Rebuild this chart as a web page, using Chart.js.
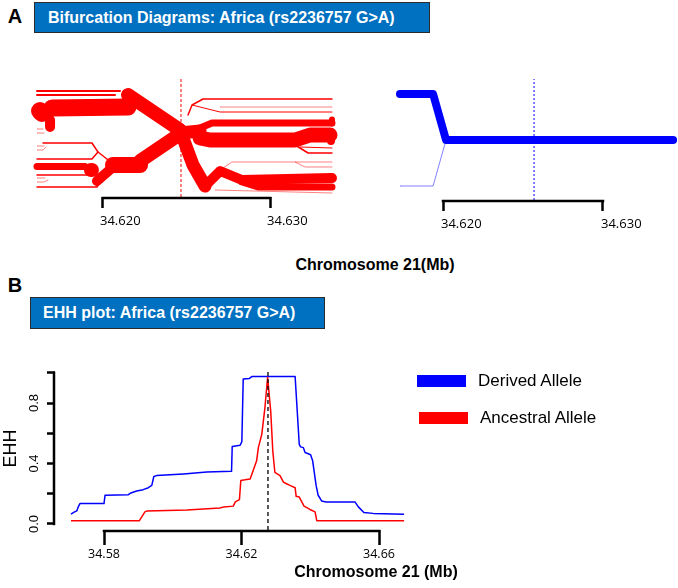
<!DOCTYPE html>
<html><head><meta charset="utf-8">
<script src="https://cdn.jsdelivr.net/npm/chart.js@4.4.1/dist/chart.umd.min.js"></script>
<style>
html,body{margin:0;padding:0;background:#fff;}
#page{position:relative;width:678px;height:588px;overflow:hidden;font-family:"Liberation Sans",Arial,sans-serif;color:#000;}
canvas{position:absolute;}
.ctr{position:absolute;transform:translate(-50%,-50%);white-space:nowrap;}
.lft{position:absolute;transform:translateY(-50%);white-space:nowrap;}
.letter{font-weight:bold;font-size:20px;}
.box{position:absolute;background:#0070C0;border:1px solid #2b2b2b;box-sizing:border-box;color:#fff;font-weight:bold;font-size:16px;white-space:nowrap;}
.xt{font-weight:bold;font-size:16px;}
.sw{position:absolute;}
.lg{font-size:17px;}
</style></head><body>
<div id="page">
  <div class="ctr letter" style="left:15px;top:16px;">A</div>
  <div class="box" style="left:34px;top:2px;width:396px;height:31px;line-height:29px;padding-left:13px;">Bifurcation Diagrams: Africa (rs2236757 G&gt;A)</div>
  <canvas id="bifL" width="345" height="165" style="left:0px;top:70px;width:345px;height:165px;"></canvas>
  <canvas id="bifR" width="298" height="170" style="left:380px;top:70px;width:298px;height:170px;"></canvas>
  <div class="ctr xt" style="left:375px;top:265px;">Chromosome 21(Mb)</div>

  <div class="ctr letter" style="left:15px;top:285px;">B</div>
  <div class="box" style="left:30px;top:297px;width:295px;height:32px;line-height:30px;padding-left:12px;">EHH plot: Africa (rs2236757 G&gt;A)</div>
  <canvas id="ehh" width="440" height="210" style="left:0px;top:355px;width:440px;height:210px;"></canvas>
  <div class="ctr xt" style="left:376px;top:572px;">Chromosome 21 (Mb)</div>

  <div class="sw" style="left:417px;top:375px;width:49px;height:12px;background:#0000FF;"></div>
  <div class="lft lg" style="left:478px;top:381px;">Derived Allele</div>
  <div class="sw" style="left:419px;top:412px;width:49px;height:12px;background:#FF0000;"></div>
  <div class="lft lg" style="left:480px;top:418px;">Ancestral Allele</div>
</div>
<script>
// ---------------- DATA ----------------
// EHH panel (positions in Mb)
const ehhTicksX = [34.58, 34.62, 34.66];
const ehhTicksY = [0, 0.2, 0.4, 0.6, 0.8, 1.0];
const corePos = 34.6277;
const derivedPos = [34.5704, 34.5713, 34.5721, 34.5725, 34.5730, 34.5800, 34.5803, 34.5871, 34.5878, 34.5895,
  34.5914, 34.5929, 34.5939, 34.5945, 34.5953, 34.6031, 34.6099, 34.6171, 34.6173, 34.6196,
  34.6201, 34.6205, 34.6223, 34.6231, 34.6356, 34.6368, 34.6372, 34.6380, 34.6385, 34.6401,
  34.6407, 34.6417, 34.6423, 34.6433, 34.6446, 34.6530, 34.6540, 34.6556, 34.6583, 34.6673];
const derivedEHH = [0.065, 0.078, 0.087, 0.113, 0.135, 0.135, 0.19, 0.194, 0.205, 0.218,
  0.227, 0.24, 0.255, 0.314, 0.32, 0.331, 0.344, 0.348, 0.512, 0.521,
  0.545, 0.959, 0.963, 0.976, 0.976, 0.527, 0.51, 0.505, 0.473, 0.458,
  0.418, 0.255, 0.19, 0.152, 0.146, 0.146, 0.113, 0.076, 0.07, 0.065];
const ancestralPos = [34.5704, 34.5903, 34.5919, 34.5924, 34.6041, 34.6137, 34.6149, 34.6176, 34.6182, 34.6194,
  34.6198, 34.6210, 34.6225, 34.6234, 34.6244, 34.6249, 34.6259, 34.6268, 34.6276, 34.6285,
  34.6291, 34.6297, 34.6312, 34.6322, 34.6331, 34.6341, 34.6356, 34.6359, 34.6368, 34.6382,
  34.6399, 34.6414, 34.6419, 34.6673];
const ancestralEHH = [0.022, 0.022, 0.08, 0.085, 0.092, 0.105, 0.113, 0.118, 0.146, 0.161,
  0.288, 0.292, 0.298, 0.353, 0.418, 0.505, 0.593, 0.767, 0.97, 0.745,
  0.484, 0.342, 0.32, 0.277, 0.266, 0.255, 0.24, 0.183, 0.178, 0.118,
  0.096, 0.08, 0.022, 0.022];

// Bifurcation panels (positions in kb, y = branch order, n = haplotypes in branch)
const bifTicks = [34620, 34630];
const bifLeftCore = 34624.67;
const bifLeftN = [28, 34, 36, 20, 4, 4, 28, 32, 20, 28, 14, 3, 3, 3, 3, 1, 1, 1, 1, 1, 1,
  26, 20, 14, 26, 14, 30, 12, 16, 3, 2, 1, 3, 2, 1, 1, 1];
const bifLeftX = [
  [34624.61, 34621.50], [34621.50, 34616.95], [34616.23, 34616.35], [34616.83, 34616.83],
  [34616.05, 34621.02], [34616.05, 34620.72], [34624.61, 34622.22], [34622.22, 34620.60],
  [34620.60, 34619.64], [34619.28, 34619.34], [34618.92, 34616.05],
  [34616.41, 34619.34, 34619.70, 34620.54], [34616.05, 34619.34, 34619.70], [34616.05, 34619.10],
  [34616.05, 34619.64, 34619.82], [34616.05, 34616.41], [34616.05, 34616.47], [34616.05, 34616.47],
  [34616.05, 34616.41, 34616.59], [34616.05, 34616.53], [34616.05, 34616.47, 34616.71],
  [34624.61, 34625.39, 34626.11], [34626.11, 34627.01, 34628.32, 34633.71], [34628.32, 34629.28, 34633.71],
  [34624.61, 34625.81], [34625.81, 34626.53, 34633.71], [34625.81, 34626.41, 34631.50, 34632.40, 34633.59],
  [34633.71, 34633.71], [34633.65, 34633.65], [34625.09, 34625.33, 34625.99, 34633.71],
  [34625.33, 34627.01, 34633.71], [34627.01, 34633.71], [34631.50, 34632.28, 34633.71],
  [34631.80, 34633.71], [34627.01, 34627.72, 34633.71], [34631.50, 34632.10, 34633.71], [34626.71, 34633.71]];
const bifLeftY = [
  [67, 102], [90, 89], [86, 84], [77, 70],
  [106, 106], [102, 102], [63, 36], [32, 32],
  [30, 16], [27, 27], [30.5, 30.5],
  [54, 54, 45, 34], [38, 38, 45], [22, 22],
  [10, 10, 15], [68, 68], [64, 64], [51, 51],
  [47, 47, 50], [19, 19], [15, 15, 17],
  [67, 32, 11], [11, 26, 17, 19], [15, 10, 10],
  [64, 66], [69, 74, 74], [59, 57, 57, 62, 62],
  [77.5, 73.5], [65, 56], [82, 92, 98, 98],
  [92, 85, 85], [90, 90], [52, 44, 44],
  [50, 49], [27, 35, 35], [35, 30, 30], [7, 4]];
const bifRightCore = 34625.69;
const bifRightN = [16, 1];
const bifRightX = [[34617.31, 34619.38, 34620.19, 34634.38], [34617.31, 34619.38, 34620.19]];
const bifRightY = [[106, 106, 60, 60], [14, 14, 60]];

// ---------------- RENDER ----------------
const HAP_W = 0.5; // px of line width per haplotype
Chart.defaults.animation = false;
Chart.defaults.events = [];
Chart.defaults.plugins.legend.display = false;
Chart.defaults.plugins.tooltip.enabled = false;
Chart.defaults.color = '#000';

const rAxis = {
  id: 'rAxis',
  afterDraw(chart, args, opts) {
    const ctx = chart.ctx;
    ctx.save();
    ctx.strokeStyle = '#000';
    ctx.lineWidth = opts.width || 2.5;
    ctx.lineCap = 'square';
    (opts.axes || []).forEach(id => {
      const s = chart.scales[id];
      const t = s.ticks;
      const a = s.getPixelForValue(t[0].value);
      const b = s.getPixelForValue(t[t.length - 1].value);
      ctx.beginPath();
      if (s.isHorizontal()) { const y = s.top + (opts.offset || 0); ctx.moveTo(a, y); ctx.lineTo(b, y); }
      else { const x = s.right - (opts.offset || 0); ctx.moveTo(x, a); ctx.lineTo(x, b); }
      ctx.stroke();
    });
    ctx.restore();
  }
};

function lineDs(pts, color, width, extra) {
  return Object.assign({
    data: pts, borderColor: color, borderWidth: width, pointRadius: 0, fill: false, tension: 0,
    borderCapStyle: 'round', borderJoinStyle: 'round', clip: false, showLine: true
  }, extra || {});
}

function bifChart(id, ns, xs, ys, color, core, dash, xmin, xmax, ymax, pad, xh, lblOff, lblPad) {
  const datasets = [lineDs([{x: core, y: 0}, {x: core, y: ymax - 1}], color, 1,
    {borderDash: dash, borderCapStyle: 'butt'})];
  ns.forEach((n, i) => {
    datasets.push(lineDs(xs[i].map((x, j) => ({x: x, y: ys[i][j]})), color, n * HAP_W));
  });
  return new Chart(document.getElementById(id), {
    type: 'line',
    data: {datasets},
    options: {
      responsive: false, maintainAspectRatio: false,
      layout: {padding: pad},
      scales: {
        x: {
          type: 'linear', min: xmin, max: xmax,
          afterBuildTicks: s => { s.ticks = bifTicks.map(v => ({value: v})); },
          afterFit: s => { s.height = xh; },
          grid: {display: true, drawOnChartArea: false, drawTicks: true, tickLength: 11, tickWidth: 2.5, tickColor: '#000'},
          border: {display: false},
          ticks: {autoSkip: false, maxRotation: 0, align: 'start', labelOffset: lblOff, padding: lblPad,
            color: '#000', font: {family: '"Open Sans", sans-serif', size: 13},
            callback: v => (v / 1000).toFixed(3)}
        },
        y: {type: 'linear', display: false, min: 0, max: ymax}
      },
      plugins: {rAxis: {axes: ['x'], width: 2.5, offset: 1}}
    },
    plugins: [rAxis]
  });
}

bifChart('bifL', bifLeftN, bifLeftX, bifLeftY, '#FF0000', bifLeftCore, [3, 2],
  34615.63, 34634.01, 120, {left: 30, right: 8, top: 7, bottom: 0}, 38, -3, 5);
bifChart('bifR', bifRightN, bifRightX, bifRightY, '#0000FF', bifRightCore, [2, 2],
  34617.0, 34634.5625, 122, {left: 15, right: 2, top: 8, bottom: 0}, 40, -2, 5);

new Chart(document.getElementById('ehh'), {
  type: 'line',
  data: {
    datasets: [
      lineDs([{x: corePos, y: -0.04}, {x: corePos, y: 1.01}], '#000', 1.3, {borderDash: [4, 3], borderCapStyle: 'butt'}),
      lineDs(ancestralPos.map((x, i) => ({x: x, y: ancestralEHH[i]})), '#FF0000', 1.5, {borderCapStyle: 'butt'}),
      lineDs(derivedPos.map((x, i) => ({x: x, y: derivedEHH[i]})), '#0000FF', 1.5, {borderCapStyle: 'butt'})
    ]
  },
  options: {
    responsive: false, maintainAspectRatio: false,
    layout: {padding: {left: 0, right: 22.5, top: 10, bottom: 0}},
    scales: {
      x: {
        type: 'linear', min: 34.565745, max: 34.6712,
        afterBuildTicks: s => { s.ticks = ehhTicksX.map(v => ({value: v})); },
        afterFit: s => { s.height = 35; },
        grid: {display: true, drawOnChartArea: false, drawTicks: true, tickLength: 15, tickWidth: 2.5, tickColor: '#000'},
        border: {display: false},
        ticks: {autoSkip: false, maxRotation: 0, padding: 2, color: '#000',
          font: {family: '"Open Sans", sans-serif', size: 12.5}, callback: v => v.toFixed(2)}
      },
      y: {
        type: 'linear', min: -0.04, max: 1.04,
        afterBuildTicks: s => { s.ticks = ehhTicksY.map(v => ({value: v})); },
        afterFit: s => { s.width = 55; },
        grid: {display: true, drawOnChartArea: false, drawTicks: true, tickLength: 8, tickWidth: 2.5, tickColor: '#000'},
        border: {display: false},
        ticks: {autoSkip: false, minRotation: 90, maxRotation: 90, crossAlign: 'center', padding: 4, color: '#000',
          font: {family: '"Liberation Sans", sans-serif', size: 13},
          callback: (v, i) => (i % 2 === 0 ? v.toFixed(1) : '')},
        title: {display: true, text: 'EHH', color: '#000', font: {family: '"Liberation Sans", sans-serif', size: 18},
          padding: {top: 0, bottom: 0}}
      }
    },
    plugins: {rAxis: {axes: ['x', 'y'], width: 2.5, offset: 1}}
  },
  plugins: [rAxis]
});
</script>
</body></html>
